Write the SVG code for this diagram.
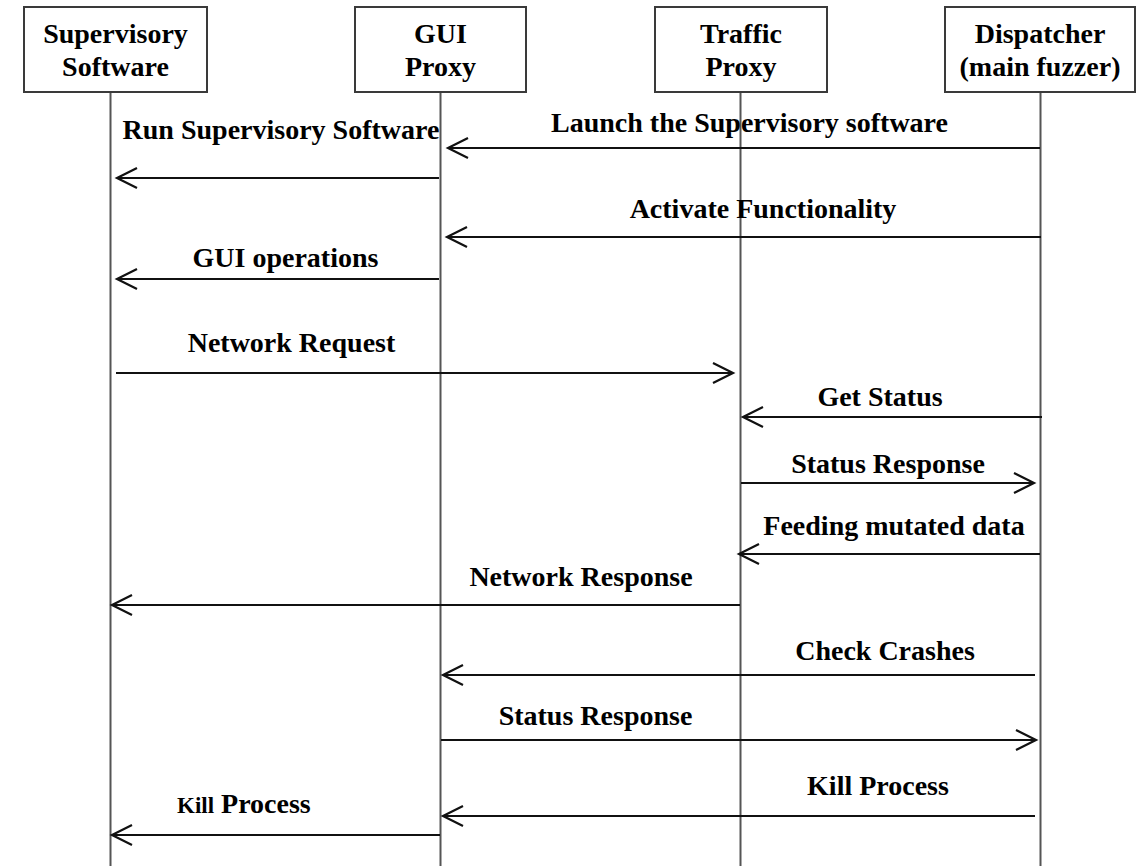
<svg xmlns="http://www.w3.org/2000/svg" width="1137" height="866" viewBox="0 0 1137 866">
<style>
  .box { fill: #ffffff; stroke: #3a3a3a; stroke-width: 2; }
  .life { stroke: #555555; stroke-width: 2; fill: none; }
  .msg { stroke: #111111; stroke-width: 2.2; fill: none; marker-end: url(#open); }
  text { font-family: "Liberation Serif", "Times New Roman", serif; font-weight: bold; font-size: 28px; fill: #000000; }
  .c { text-anchor: middle; }
</style>
<defs>
  <marker id="open" markerUnits="userSpaceOnUse" markerWidth="26" markerHeight="26" viewBox="-23 -13 26 26" refX="0" refY="0" orient="auto">
    <path d="M-20,-10 L0,0 L-20,10" fill="none" stroke="#111111" stroke-width="2.2"/>
  </marker>
</defs>
<rect width="1137" height="866" fill="#ffffff"/>

<g id="lifelines">
  <line class="life" x1="110.5" y1="92" x2="110.5" y2="866"/>
  <line class="life" x1="440.5" y1="92" x2="440.5" y2="866"/>
  <line class="life" x1="740.5" y1="92" x2="740.5" y2="866"/>
  <line class="life" x1="1040.5" y1="92" x2="1040.5" y2="866"/>
</g>

<g id="node-supervisory">
  <rect class="box" x="24" y="7" width="183" height="85"/>
  <text class="c" x="115.5" y="43">Supervisory</text>
  <text class="c" x="115.5" y="76">Software</text>
</g>
<g id="node-gui">
  <rect class="box" x="355" y="7" width="171" height="85"/>
  <text class="c" x="440.5" y="43">GUI</text>
  <text class="c" x="440.5" y="76">Proxy</text>
</g>
<g id="node-traffic">
  <rect class="box" x="655" y="7" width="172" height="85"/>
  <text class="c" x="741" y="43">Traffic</text>
  <text class="c" x="741" y="76">Proxy</text>
</g>
<g id="node-dispatcher">
  <rect class="box" x="945" y="7" width="190" height="85"/>
  <text class="c" x="1040" y="43">Dispatcher</text>
  <text class="c" x="1040" y="76">(main fuzzer)</text>
</g>

<g id="connectors">
  <line class="msg" x1="1040" y1="148" x2="448" y2="148"/>
  <line class="msg" x1="439" y1="178" x2="117" y2="178"/>
  <line class="msg" x1="1041" y1="237" x2="447" y2="237"/>
  <line class="msg" x1="439" y1="279" x2="117" y2="279"/>
  <line class="msg" x1="116" y1="373" x2="733" y2="373"/>
  <line class="msg" x1="1042" y1="417" x2="743" y2="417"/>
  <line class="msg" x1="741" y1="483" x2="1034" y2="483"/>
  <line class="msg" x1="1040" y1="554" x2="739" y2="554"/>
  <line class="msg" x1="740" y1="605" x2="112" y2="605"/>
  <line class="msg" x1="1035" y1="675" x2="443" y2="675"/>
  <line class="msg" x1="441" y1="740" x2="1036" y2="740"/>
  <line class="msg" x1="1035" y1="816" x2="443" y2="816"/>
  <line class="msg" x1="440" y1="835" x2="112" y2="835"/>
</g>

<g id="labels">
  <text class="c" x="749.5" y="132">Launch the Supervisory software</text>
  <text class="c" x="281" y="139">Run Supervisory Software</text>
  <text class="c" x="763" y="218">Activate Functionality</text>
  <text class="c" x="285.5" y="267">GUI operations</text>
  <text class="c" x="291.5" y="352">Network Request</text>
  <text class="c" x="880" y="406">Get Status</text>
  <text class="c" x="888" y="473">Status Response</text>
  <text class="c" x="894" y="535">Feeding mutated data</text>
  <text class="c" x="581" y="586">Network Response</text>
  <text class="c" x="885" y="660">Check Crashes</text>
  <text class="c" x="595.5" y="725">Status Response</text>
  <text class="c" x="878" y="795">Kill Process</text>
  <text x="177" y="813"><tspan font-size="23px">Kill</tspan> Process</text>
</g>
</svg>
